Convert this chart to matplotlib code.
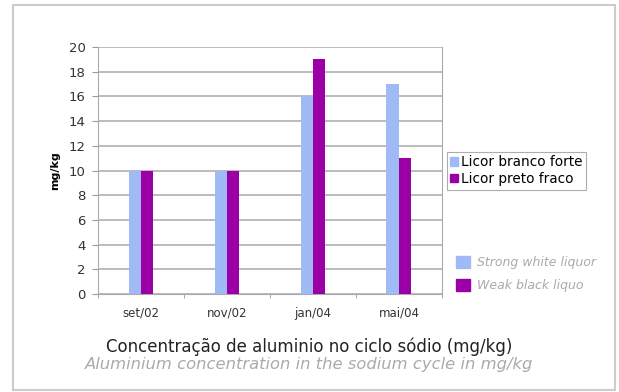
import matplotlib.pyplot as plt
import numpy as np
from matplotlib.patches import Rectangle, Patch

plt.rcParams['font.family'] = ['DejaVu Sans']

periodos = ['set/02', 'nov/02', 'jan/04', 'mai/04']
branco_forte = [10, 10, 16, 17]
preto_fraco = [10, 10, 19, 11]

c_azul = '#9fbaf5'
c_roxo = '#9a00a6'

fig = plt.figure(figsize=(6.19, 3.92), dpi=100)
ax = fig.add_axes([0.1583, 0.25, 0.5557, 0.63])

x = np.arange(len(periodos))
w = 0.145
ax.bar(x - w / 2, branco_forte, w, color=c_azul, zorder=3)
ax.bar(x + w / 2, preto_fraco, w, color=c_roxo, zorder=3)

ax.set_xlim(-0.5, len(periodos) - 0.5)
ax.set_ylim(0, 20)
ax.set_yticks(range(0, 21, 2))
ax.yaxis.grid(True, color='#b0b0b0', lw=1.2, zorder=0)
ax.set_xticks(x)
ax.set_xticklabels(periodos, fontsize=8.5, color='#333333')
ax.set_xticks(np.arange(-0.5, len(periodos), 1), minor=True)
ax.tick_params(axis='x', which='major', length=0, pad=9)
ax.tick_params(axis='x', which='minor', length=3, color='#999999')
ax.tick_params(axis='y', labelsize=9.5, length=4, pad=5, color='#999999', labelcolor='#333333')
for s in ['left', 'bottom', 'right', 'top']:
    ax.spines[s].set_color('#aaaaaa')
ax.spines['top'].set_visible(False)
ax.set_ylabel('mg/kg', fontsize=8, fontweight='bold', labelpad=6)

# legenda principal
leg = fig.legend(handles=[Patch(color=c_azul, label='Licor branco forte'),
                          Patch(color=c_roxo, label='Licor preto fraco')],
                 loc='upper left', bbox_to_anchor=(447 / 619, 1 - 152 / 392), fontsize=9.8,
                 frameon=True, fancybox=False, handlelength=0.55, handleheight=0.55,
                 handletextpad=0.25, borderpad=0.25, labelspacing=0.2,
                 borderaxespad=0)
leg.get_frame().set_edgecolor('#999999')
leg.get_frame().set_linewidth(0.8)

# legenda em ingles
leg2 = fig.legend(handles=[Patch(color=c_azul, label='Strong white liquor'),
                           Patch(color=c_roxo, label='Weak black liquo')],
                  loc='upper left', bbox_to_anchor=(451 / 619, 1 - 251 / 392),
                  frameon=False, handlelength=1.1, handleheight=1.1,
                  handletextpad=0.6, labelspacing=0.8, borderaxespad=0,
                  prop={'style': 'italic', 'size': 9})
for t in leg2.get_texts():
    t.set_color('#aaaaaa')

fig.text(0.5, 1 - 347 / 392, 'Concentração de aluminio no ciclo sódio (mg/kg)',
         ha='center', va='center', fontsize=12, color='#222222')
fig.text(0.5, 1 - 364 / 392, 'Aluminium concentration in the sodium cycle in mg/kg',
         ha='center', va='center', fontsize=11.8, color='#aaaaaa', style='italic')

# moldura externa
fig.patches.append(Rectangle((13 / 619, 1 - 390 / 392), (615 - 13) / 619, (390 - 5) / 392,
                             transform=fig.transFigure, fill=False,
                             edgecolor='#cccccc', lw=1.5))

fig.savefig('out.png', dpi=100)
